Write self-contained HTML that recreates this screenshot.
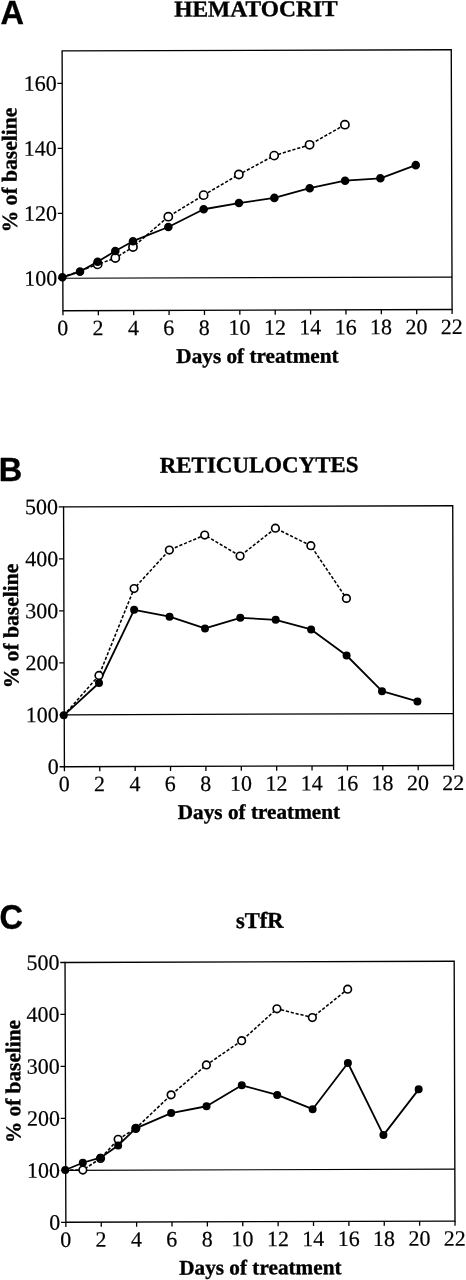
<!DOCTYPE html>
<html lang="en"><head><meta charset="utf-8"><title>Figure</title>
<style>html,body{margin:0;padding:0;background:#fff}body{width:466px;height:1280px;overflow:hidden}svg{display:block}.s{font-family:"Liberation Serif","DejaVu Serif",serif;fill:#000}.b{font-weight:bold}.p{font-family:"Liberation Sans","DejaVu Sans",sans-serif;font-weight:bold;font-size:32.5px;fill:#000}</style></head><body>
<svg width="466" height="1280" viewBox="0 0 466 1280">
<rect width="466" height="1280" fill="#fff"/>
<text class="p" transform="translate(0.4 23.9) scale(1 1.000)" stroke="#000" stroke-width="0.35" stroke-linejoin="round">A</text>
<text class="p" transform="translate(-1.3 481.0) scale(1 1.000)" stroke="#000" stroke-width="0.35" stroke-linejoin="round">B</text>
<text class="p" transform="translate(-0.5 928.5) scale(1 1.100)" stroke="#000" stroke-width="0.35" stroke-linejoin="round">C</text>
<g transform="rotate(-0.1833)">
<g>
<rect x="61.95" y="51.15" width="389.15" height="259.80" fill="none" stroke="#000" stroke-width="1.35"/>
<line x1="61.95" y1="278.47" x2="451.10" y2="278.47" stroke="#000" stroke-width="1.2"/>
<path d="M61.95 278.47h-4.8M61.95 213.52h-4.8M61.95 148.57h-4.8M61.95 83.62h-4.8M61.95 310.95v4.6M97.33 310.95v4.6M132.70 310.95v4.6M168.08 310.95v4.6M203.46 310.95v4.6M238.84 310.95v4.6M274.21 310.95v4.6M309.59 310.95v4.6M344.97 310.95v4.6M380.35 310.95v4.6M415.72 310.95v4.6M451.10 310.95v4.6" stroke="#000" stroke-width="1.3" fill="none"/>
<text class="s" font-size="22.0" text-anchor="end" transform="translate(56.35 285.77)" stroke="#000" stroke-width="0.20">100</text>
<text class="s" font-size="22.0" text-anchor="end" transform="translate(56.35 220.82)" stroke="#000" stroke-width="0.20">120</text>
<text class="s" font-size="22.0" text-anchor="end" transform="translate(56.35 155.88)" stroke="#000" stroke-width="0.20">140</text>
<text class="s" font-size="22.0" text-anchor="end" transform="translate(56.35 90.92)" stroke="#000" stroke-width="0.20">160</text>
<text class="s" font-size="22.0" text-anchor="middle" transform="translate(61.65 335.55)" stroke="#000" stroke-width="0.20">0</text>
<text class="s" font-size="22.0" text-anchor="middle" transform="translate(97.03 335.55)" stroke="#000" stroke-width="0.20">2</text>
<text class="s" font-size="22.0" text-anchor="middle" transform="translate(132.40 335.55)" stroke="#000" stroke-width="0.20">4</text>
<text class="s" font-size="22.0" text-anchor="middle" transform="translate(167.78 335.55)" stroke="#000" stroke-width="0.20">6</text>
<text class="s" font-size="22.0" text-anchor="middle" transform="translate(203.16 335.55)" stroke="#000" stroke-width="0.20">8</text>
<text class="s" font-size="22.0" text-anchor="middle" transform="translate(238.54 335.55)" stroke="#000" stroke-width="0.20">10</text>
<text class="s" font-size="22.0" text-anchor="middle" transform="translate(273.91 335.55)" stroke="#000" stroke-width="0.20">12</text>
<text class="s" font-size="22.0" text-anchor="middle" transform="translate(309.29 335.55)" stroke="#000" stroke-width="0.20">14</text>
<text class="s" font-size="22.0" text-anchor="middle" transform="translate(344.67 335.55)" stroke="#000" stroke-width="0.20">16</text>
<text class="s" font-size="22.0" text-anchor="middle" transform="translate(380.05 335.55)" stroke="#000" stroke-width="0.20">18</text>
<text class="s" font-size="22.0" text-anchor="middle" transform="translate(415.42 335.55)" stroke="#000" stroke-width="0.20">20</text>
<text class="s" font-size="22.0" text-anchor="middle" transform="translate(450.80 335.55)" stroke="#000" stroke-width="0.20">22</text>
<text class="s b" font-size="21.0" text-anchor="middle" transform="translate(256.33 363.65) scale(1.012 1)" stroke="#000" stroke-width="0.35">Days of treatment</text>
<text class="s b" font-size="22.6" text-anchor="middle" transform="translate(255.93 17.15) scale(1.040 1)" stroke="#000" stroke-width="0.35">HEMATOCRIT</text>
<text class="s b" font-size="21.6" text-anchor="middle" transform="translate(16.20 170.05) rotate(-90)" stroke="#000" stroke-width="0.35">% of baseline</text>
<polyline points="61.5,277.5 96.8,264.7 114.5,258.4 132.2,247.4 167.6,217.2 203.0,195.8 238.3,175.3 273.7,156.5 309.1,145.8 344.5,125.8" fill="none" stroke="#000" stroke-width="1.55" stroke-dasharray="3.2 1.8"/>
<polyline points="61.5,277.5 79.1,271.9 96.8,262.1 114.5,251.4 132.2,241.6 167.6,227.5 203.0,209.9 238.3,203.8 273.7,198.8 309.1,189.2 344.5,181.8 379.8,179.5 415.2,166.5" fill="none" stroke="#000" stroke-width="1.8" stroke-linejoin="round"/>
<circle cx="96.8" cy="264.7" r="4.1" fill="#fff" stroke="#000" stroke-width="1.65"/>
<circle cx="114.5" cy="258.4" r="4.1" fill="#fff" stroke="#000" stroke-width="1.65"/>
<circle cx="132.2" cy="247.4" r="4.1" fill="#fff" stroke="#000" stroke-width="1.65"/>
<circle cx="167.6" cy="217.2" r="4.1" fill="#fff" stroke="#000" stroke-width="1.65"/>
<circle cx="203.0" cy="195.8" r="4.1" fill="#fff" stroke="#000" stroke-width="1.65"/>
<circle cx="238.3" cy="175.3" r="4.1" fill="#fff" stroke="#000" stroke-width="1.65"/>
<circle cx="273.7" cy="156.5" r="4.1" fill="#fff" stroke="#000" stroke-width="1.65"/>
<circle cx="309.1" cy="145.8" r="4.1" fill="#fff" stroke="#000" stroke-width="1.65"/>
<circle cx="344.5" cy="125.8" r="4.1" fill="#fff" stroke="#000" stroke-width="1.65"/>
<circle cx="61.5" cy="277.5" r="4.3" fill="#000"/>
<circle cx="79.1" cy="271.9" r="4.3" fill="#000"/>
<circle cx="96.8" cy="262.1" r="4.3" fill="#000"/>
<circle cx="114.5" cy="251.4" r="4.3" fill="#000"/>
<circle cx="132.2" cy="241.6" r="4.3" fill="#000"/>
<circle cx="167.6" cy="227.5" r="4.3" fill="#000"/>
<circle cx="203.0" cy="209.9" r="4.3" fill="#000"/>
<circle cx="238.3" cy="203.8" r="4.3" fill="#000"/>
<circle cx="273.7" cy="198.8" r="4.3" fill="#000"/>
<circle cx="309.1" cy="189.2" r="4.3" fill="#000"/>
<circle cx="344.5" cy="181.8" r="4.3" fill="#000"/>
<circle cx="379.8" cy="179.5" r="4.3" fill="#000"/>
<circle cx="415.2" cy="166.5" r="4.3" fill="#000"/>
</g>
<g>
<rect x="61.95" y="507.15" width="389.15" height="259.80" fill="none" stroke="#000" stroke-width="1.35"/>
<line x1="61.95" y1="714.99" x2="451.10" y2="714.99" stroke="#000" stroke-width="1.2"/>
<path d="M61.95 766.95h-4.8M61.95 714.99h-4.8M61.95 663.03h-4.8M61.95 611.07h-4.8M61.95 559.11h-4.8M61.95 507.15h-4.8M61.95 766.95v4.6M97.33 766.95v4.6M132.70 766.95v4.6M168.08 766.95v4.6M203.46 766.95v4.6M238.84 766.95v4.6M274.21 766.95v4.6M309.59 766.95v4.6M344.97 766.95v4.6M380.35 766.95v4.6M415.72 766.95v4.6M451.10 766.95v4.6" stroke="#000" stroke-width="1.3" fill="none"/>
<text class="s" font-size="22.0" text-anchor="end" transform="translate(56.35 774.25)" stroke="#000" stroke-width="0.20">0</text>
<text class="s" font-size="22.0" text-anchor="end" transform="translate(56.35 722.29)" stroke="#000" stroke-width="0.20">100</text>
<text class="s" font-size="22.0" text-anchor="end" transform="translate(56.35 670.33)" stroke="#000" stroke-width="0.20">200</text>
<text class="s" font-size="22.0" text-anchor="end" transform="translate(56.35 618.37)" stroke="#000" stroke-width="0.20">300</text>
<text class="s" font-size="22.0" text-anchor="end" transform="translate(56.35 566.41)" stroke="#000" stroke-width="0.20">400</text>
<text class="s" font-size="22.0" text-anchor="end" transform="translate(56.35 514.45)" stroke="#000" stroke-width="0.20">500</text>
<text class="s" font-size="22.0" text-anchor="middle" transform="translate(61.65 791.55)" stroke="#000" stroke-width="0.20">0</text>
<text class="s" font-size="22.0" text-anchor="middle" transform="translate(97.03 791.55)" stroke="#000" stroke-width="0.20">2</text>
<text class="s" font-size="22.0" text-anchor="middle" transform="translate(132.40 791.55)" stroke="#000" stroke-width="0.20">4</text>
<text class="s" font-size="22.0" text-anchor="middle" transform="translate(167.78 791.55)" stroke="#000" stroke-width="0.20">6</text>
<text class="s" font-size="22.0" text-anchor="middle" transform="translate(203.16 791.55)" stroke="#000" stroke-width="0.20">8</text>
<text class="s" font-size="22.0" text-anchor="middle" transform="translate(238.54 791.55)" stroke="#000" stroke-width="0.20">10</text>
<text class="s" font-size="22.0" text-anchor="middle" transform="translate(273.91 791.55)" stroke="#000" stroke-width="0.20">12</text>
<text class="s" font-size="22.0" text-anchor="middle" transform="translate(309.29 791.55)" stroke="#000" stroke-width="0.20">14</text>
<text class="s" font-size="22.0" text-anchor="middle" transform="translate(344.67 791.55)" stroke="#000" stroke-width="0.20">16</text>
<text class="s" font-size="22.0" text-anchor="middle" transform="translate(380.05 791.55)" stroke="#000" stroke-width="0.20">18</text>
<text class="s" font-size="22.0" text-anchor="middle" transform="translate(415.42 791.55)" stroke="#000" stroke-width="0.20">20</text>
<text class="s" font-size="22.0" text-anchor="middle" transform="translate(450.80 791.55)" stroke="#000" stroke-width="0.20">22</text>
<text class="s b" font-size="21.0" text-anchor="middle" transform="translate(256.33 819.65) scale(1.012 1)" stroke="#000" stroke-width="0.35">Days of treatment</text>
<text class="s b" font-size="22.6" text-anchor="middle" transform="translate(257.63 473.15) scale(1.015 1)" stroke="#000" stroke-width="0.35">RETICULOCYTES</text>
<text class="s b" font-size="21.6" text-anchor="middle" transform="translate(16.20 626.05) rotate(-90)" stroke="#000" stroke-width="0.35">% of baseline</text>
<polyline points="61.5,715.5 96.8,675.8 132.2,589.0 167.6,550.6 203.0,535.7 238.3,556.8 273.7,529.1 309.1,546.7 344.5,599.5" fill="none" stroke="#000" stroke-width="1.55" stroke-dasharray="3.2 1.8"/>
<polyline points="61.5,715.5 96.8,683.3 132.2,610.3 167.6,617.2 203.0,629.1 238.3,618.6 273.7,620.7 309.1,630.4 344.5,656.6 379.8,692.4 415.2,702.8" fill="none" stroke="#000" stroke-width="1.8" stroke-linejoin="round"/>
<circle cx="96.8" cy="675.8" r="3.8" fill="#fff" stroke="#000" stroke-width="1.65"/>
<circle cx="132.2" cy="589.0" r="3.8" fill="#fff" stroke="#000" stroke-width="1.65"/>
<circle cx="167.6" cy="550.6" r="3.8" fill="#fff" stroke="#000" stroke-width="1.65"/>
<circle cx="203.0" cy="535.7" r="3.8" fill="#fff" stroke="#000" stroke-width="1.65"/>
<circle cx="238.3" cy="556.8" r="3.8" fill="#fff" stroke="#000" stroke-width="1.65"/>
<circle cx="273.7" cy="529.1" r="3.8" fill="#fff" stroke="#000" stroke-width="1.65"/>
<circle cx="309.1" cy="546.7" r="3.8" fill="#fff" stroke="#000" stroke-width="1.65"/>
<circle cx="344.5" cy="599.5" r="3.8" fill="#fff" stroke="#000" stroke-width="1.65"/>
<circle cx="61.5" cy="715.5" r="4.0" fill="#000"/>
<circle cx="96.8" cy="683.3" r="4.0" fill="#000"/>
<circle cx="132.2" cy="610.3" r="4.0" fill="#000"/>
<circle cx="167.6" cy="617.2" r="4.0" fill="#000"/>
<circle cx="203.0" cy="629.1" r="4.0" fill="#000"/>
<circle cx="238.3" cy="618.6" r="4.0" fill="#000"/>
<circle cx="273.7" cy="620.7" r="4.0" fill="#000"/>
<circle cx="309.1" cy="630.4" r="4.0" fill="#000"/>
<circle cx="344.5" cy="656.6" r="4.0" fill="#000"/>
<circle cx="379.8" cy="692.4" r="4.0" fill="#000"/>
<circle cx="415.2" cy="702.8" r="4.0" fill="#000"/>
</g>
<g>
<rect x="61.95" y="962.70" width="389.15" height="259.80" fill="none" stroke="#000" stroke-width="1.35"/>
<line x1="61.95" y1="1170.54" x2="451.10" y2="1170.54" stroke="#000" stroke-width="1.2"/>
<path d="M61.95 1222.50h-4.8M61.95 1170.54h-4.8M61.95 1118.58h-4.8M61.95 1066.62h-4.8M61.95 1014.66h-4.8M61.95 962.70h-4.8M61.95 1222.50v4.6M97.33 1222.50v4.6M132.70 1222.50v4.6M168.08 1222.50v4.6M203.46 1222.50v4.6M238.84 1222.50v4.6M274.21 1222.50v4.6M309.59 1222.50v4.6M344.97 1222.50v4.6M380.35 1222.50v4.6M415.72 1222.50v4.6M451.10 1222.50v4.6" stroke="#000" stroke-width="1.3" fill="none"/>
<text class="s" font-size="22.0" text-anchor="end" transform="translate(56.35 1229.80)" stroke="#000" stroke-width="0.20">0</text>
<text class="s" font-size="22.0" text-anchor="end" transform="translate(56.35 1177.84)" stroke="#000" stroke-width="0.20">100</text>
<text class="s" font-size="22.0" text-anchor="end" transform="translate(56.35 1125.88)" stroke="#000" stroke-width="0.20">200</text>
<text class="s" font-size="22.0" text-anchor="end" transform="translate(56.35 1073.92)" stroke="#000" stroke-width="0.20">300</text>
<text class="s" font-size="22.0" text-anchor="end" transform="translate(56.35 1021.96)" stroke="#000" stroke-width="0.20">400</text>
<text class="s" font-size="22.0" text-anchor="end" transform="translate(56.35 970.00)" stroke="#000" stroke-width="0.20">500</text>
<text class="s" font-size="22.0" text-anchor="middle" transform="translate(61.65 1247.10)" stroke="#000" stroke-width="0.20">0</text>
<text class="s" font-size="22.0" text-anchor="middle" transform="translate(97.03 1247.10)" stroke="#000" stroke-width="0.20">2</text>
<text class="s" font-size="22.0" text-anchor="middle" transform="translate(132.40 1247.10)" stroke="#000" stroke-width="0.20">4</text>
<text class="s" font-size="22.0" text-anchor="middle" transform="translate(167.78 1247.10)" stroke="#000" stroke-width="0.20">6</text>
<text class="s" font-size="22.0" text-anchor="middle" transform="translate(203.16 1247.10)" stroke="#000" stroke-width="0.20">8</text>
<text class="s" font-size="22.0" text-anchor="middle" transform="translate(238.54 1247.10)" stroke="#000" stroke-width="0.20">10</text>
<text class="s" font-size="22.0" text-anchor="middle" transform="translate(273.91 1247.10)" stroke="#000" stroke-width="0.20">12</text>
<text class="s" font-size="22.0" text-anchor="middle" transform="translate(309.29 1247.10)" stroke="#000" stroke-width="0.20">14</text>
<text class="s" font-size="22.0" text-anchor="middle" transform="translate(344.67 1247.10)" stroke="#000" stroke-width="0.20">16</text>
<text class="s" font-size="22.0" text-anchor="middle" transform="translate(380.05 1247.10)" stroke="#000" stroke-width="0.20">18</text>
<text class="s" font-size="22.0" text-anchor="middle" transform="translate(415.42 1247.10)" stroke="#000" stroke-width="0.20">20</text>
<text class="s" font-size="22.0" text-anchor="middle" transform="translate(450.80 1247.10)" stroke="#000" stroke-width="0.20">22</text>
<text class="s b" font-size="21.0" text-anchor="middle" transform="translate(256.33 1275.20) scale(1.012 1)" stroke="#000" stroke-width="0.35">Days of treatment</text>
<text class="s b" font-size="22.6" text-anchor="middle" transform="translate(256.83 928.70)" stroke="#000" stroke-width="0.35">sTfR</text>
<text class="s b" font-size="21.3" text-anchor="middle" transform="translate(16.80 1081.60) rotate(-90)" stroke="#000" stroke-width="0.35">% of baseline</text>
<polyline points="61.5,1170.2 79.1,1170.3 96.8,1158.8 114.5,1139.7 132.2,1128.8 167.6,1095.4 203.0,1065.6 238.3,1041.5 273.7,1009.7 309.1,1018.5 344.5,990.3" fill="none" stroke="#000" stroke-width="1.55" stroke-dasharray="3.2 1.8"/>
<polyline points="61.5,1170.2 79.1,1163.0 96.8,1158.0 114.5,1145.8 132.2,1128.8 167.6,1113.6 203.0,1106.9 238.3,1086.1 273.7,1095.8 309.1,1110.2 344.5,1064.1 379.8,1136.3 415.2,1090.7" fill="none" stroke="#000" stroke-width="1.8" stroke-linejoin="round"/>
<circle cx="79.1" cy="1170.3" r="3.8" fill="#fff" stroke="#000" stroke-width="1.65"/>
<circle cx="96.8" cy="1158.8" r="3.8" fill="#fff" stroke="#000" stroke-width="1.65"/>
<circle cx="114.5" cy="1139.7" r="3.8" fill="#fff" stroke="#000" stroke-width="1.65"/>
<circle cx="132.2" cy="1128.8" r="3.8" fill="#fff" stroke="#000" stroke-width="1.65"/>
<circle cx="167.6" cy="1095.4" r="3.8" fill="#fff" stroke="#000" stroke-width="1.65"/>
<circle cx="203.0" cy="1065.6" r="3.8" fill="#fff" stroke="#000" stroke-width="1.65"/>
<circle cx="238.3" cy="1041.5" r="3.8" fill="#fff" stroke="#000" stroke-width="1.65"/>
<circle cx="273.7" cy="1009.7" r="3.8" fill="#fff" stroke="#000" stroke-width="1.65"/>
<circle cx="309.1" cy="1018.5" r="3.8" fill="#fff" stroke="#000" stroke-width="1.65"/>
<circle cx="344.5" cy="990.3" r="3.8" fill="#fff" stroke="#000" stroke-width="1.65"/>
<circle cx="61.5" cy="1170.2" r="4.0" fill="#000"/>
<circle cx="79.1" cy="1163.0" r="4.0" fill="#000"/>
<circle cx="96.8" cy="1158.0" r="4.0" fill="#000"/>
<circle cx="114.5" cy="1145.8" r="4.0" fill="#000"/>
<circle cx="132.2" cy="1128.8" r="4.0" fill="#000"/>
<circle cx="167.6" cy="1113.6" r="4.0" fill="#000"/>
<circle cx="203.0" cy="1106.9" r="4.0" fill="#000"/>
<circle cx="238.3" cy="1086.1" r="4.0" fill="#000"/>
<circle cx="273.7" cy="1095.8" r="4.0" fill="#000"/>
<circle cx="309.1" cy="1110.2" r="4.0" fill="#000"/>
<circle cx="344.5" cy="1064.1" r="4.0" fill="#000"/>
<circle cx="379.8" cy="1136.3" r="4.0" fill="#000"/>
<circle cx="415.2" cy="1090.7" r="4.0" fill="#000"/>
</g>
</g></svg></body></html>
